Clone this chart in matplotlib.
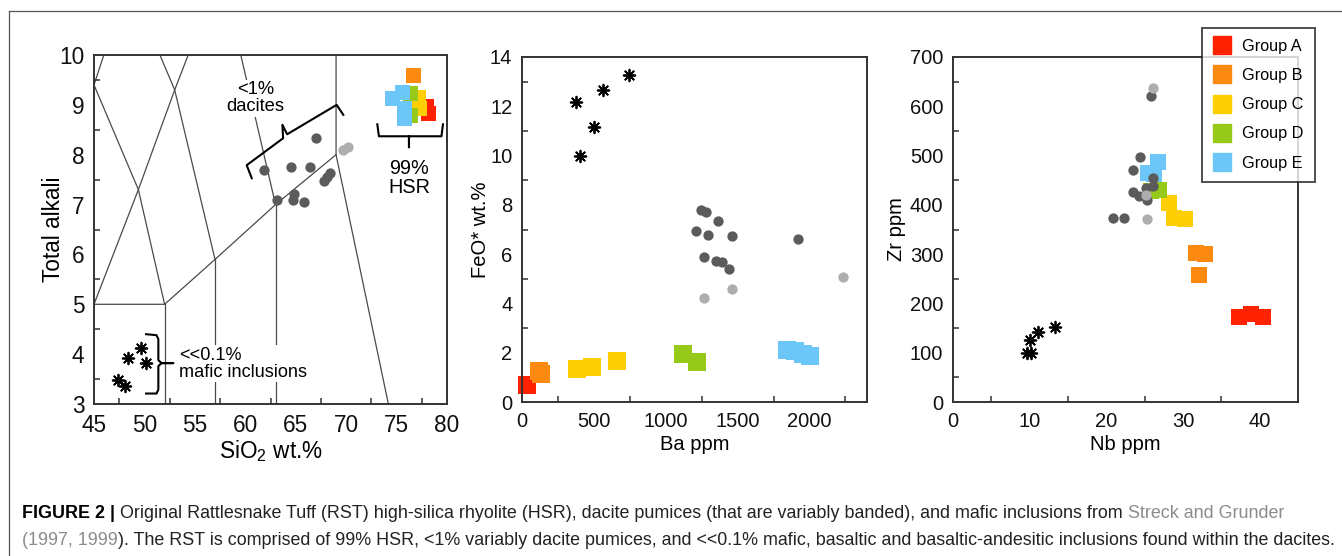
import numpy as np
import matplotlib.pyplot as plt
from matplotlib.lines import Line2D
from matplotlib.ticker import MultipleLocator

plt.rcParams['font.family'] = ['Liberation Sans', 'DejaVu Sans']
plt.rcParams['mathtext.fontset'] = 'custom'
plt.rcParams['mathtext.rm'] = 'Liberation Sans'
plt.rcParams['mathtext.it'] = 'Liberation Sans:italic'

# colours of the groups
grupos = ['Group A', 'Group B', 'Group C', 'Group D', 'Group E']
cores = ['#ff2200', '#fd8a10', '#fecf04', '#96c919', '#6cc6f8']
cinza_escuro = '#5b5b5b'
cinza_claro = '#aeaeae'

# ---- TAS diagram (SiO2 vs total alkali) ----
tas_si_mafic = [49.69, 48.37, 50.12, 47.38, 48.04]
tas_alk_mafic = [4.12, 3.92, 3.82, 3.48, 3.36]
tas_si_dacito = [66.98, 61.85, 64.50, 66.38, 63.14, 64.80, 64.73, 65.79, 67.77, 68.10, 68.43]
tas_alk_dacito = [8.33, 7.69, 7.75, 7.75, 7.10, 7.21, 7.09, 7.06, 7.48, 7.55, 7.63]
tas_si_dacito_claro = [69.69, 70.18]
tas_alk_dacito_claro = [8.09, 8.15]
tas_si_hsr = [[77.9, 78.1], [76.6], [77.12, 77.2], [76.33, 76.33], [74.55, 75.54, 75.74, 75.74]]
tas_alk_hsr = [[8.98, 8.84], [9.6], [9.16, 8.94], [9.24, 8.80], [9.14, 9.26, 8.94, 8.74]]

# TAS field boundaries (Le Bas et al. 1986)
tas_limites = [
    [(45, 9.4), (49.4, 7.3), (52, 5)],
    [(45, 5), (49.4, 7.3), (53, 9.3), (57.6, 11.7)],
    [(45, 9.4), (48.4, 11.5), (53, 9.3), (57, 5.9)],
    [(57.6, 11.7), (63, 7)],
    [(45, 5), (52, 5), (57, 5.9), (63, 7), (69, 8), (69, 13)],
    [(52, 0), (52, 5)],
    [(57, 0), (57, 5.9)],
    [(63, 0), (63, 7)],
    [(69, 8), (77.3, 0)],
]

# brackets of the annotations
chave_dacito = [(60.64, 7.53), (60.14, 7.79), (63.75, 8.33), (63.68, 8.60), (64.15, 8.41), (69.06, 9.00), (69.72, 8.80)]
chave_hsr = [(73.09, 8.61), (73.25, 8.37), (76.23, 8.37), (76.23, 8.15), (76.23, 8.37), (79.45, 8.37), (79.6, 8.61)]
chave_mafic = [(50.16, 4.40), (51.2, 4.38), (51.38, 4.30), (51.38, 3.88), (51.7, 3.82), (52.86, 3.82),
               (51.7, 3.82), (51.38, 3.76), (51.38, 3.29), (51.2, 3.21), (50.16, 3.21)]

# ---- Ba vs FeO* ----
ba_mafic = [379, 565, 746, 502, 402]
feo_mafic = [12.18, 12.65, 13.26, 11.14, 9.99]
ba_dacito = [1243, 1280, 1366, 1210, 1296, 1459, 1919, 1268, 1347, 1389, 1443]
feo_dacito = [7.79, 7.72, 7.36, 6.95, 6.78, 6.75, 6.60, 5.90, 5.74, 5.67, 5.40]
ba_dacito_claro = [1268, 1459, 2230]
feo_dacito_claro = [4.21, 4.59, 5.06]
ba_hsr = [[35], [115, 130], [386, 490, 662], [1122, 1220], [1842, 1900, 1958, 2005]]
feo_hsr = [[0.70], [1.25, 1.12], [1.34, 1.42, 1.66], [1.96, 1.61], [2.12, 2.05, 1.96, 1.85]]

# ---- Nb vs Zr ----
nb_mafic = [9.99, 11.07, 13.33, 9.68, 10.2]
zr_mafic = [125, 142, 152, 99.4, 99.4]
nb_dacito = [25.84, 24.45, 23.54, 26.14, 23.45, 24.32, 25.19, 26.14, 25.32, 20.85, 22.24]
zr_dacito = [621, 497, 470, 455, 427, 418, 435, 438, 409, 374, 373]
nb_dacito_claro = [26.06, 25.19, 25.28]
zr_dacito_claro = [638, 421, 371]
nb_hsr = [[37.35, 38.87, 40.39], [31.7, 32.92, 32.05], [28.23, 28.88, 30.31], [25.84, 26.93], [25.41, 26.71, 26.28]]
zr_hsr = [[172, 179, 172], [303, 301, 257], [404, 374, 371], [428, 431], [465, 487, 462]]

asterisco = (8, 2, 0)

fig = plt.figure(figsize=(13.42, 5.56), dpi=100)
ax1 = fig.add_axes([94/1342, 1-404/556, 353/1342, 349/556])
ax2 = fig.add_axes([522/1342, 1-402/556, 345/1342, 345/556])
ax3 = fig.add_axes([953/1342, 1-402/556, 345/1342, 345/556])


def estilo(ax, fs, xlab, ylab, xpos, ypos):
    for s in ax.spines.values():
        s.set_linewidth(1.4)
        s.set_color('#333333')
    ax.tick_params(which='major', length=0, labelsize=fs, pad=7, colors='#111111')
    ax.tick_params(which='minor', direction='in', length=4.5, width=1.1, color='#333333')
    ax.set_xlabel(xlab, fontsize=fs, va='center')
    ax.set_ylabel(ylab, fontsize=fs, va='center')
    ax.xaxis.set_label_coords(0.5, xpos)
    ax.yaxis.set_label_coords(ypos, 0.5)


def pontos(ax, x_m, y_m, x_d, y_d, x_c, y_c, x_h, y_h, lado):
    for xs, ys, c in zip(x_h, y_h, cores):
        ax.scatter(xs, ys, marker='s', s=lado**2, color=c, linewidths=0, zorder=2, clip_on=False)
    ax.scatter(x_d, y_d, s=55, color=cinza_escuro, linewidths=0, zorder=3)
    ax.scatter(x_c, y_c, s=55, color=cinza_claro, linewidths=0, zorder=3)
    ax.scatter(x_m, y_m, marker=asterisco, s=70, color='black', linewidths=1.3, zorder=3)


# Painel 1 - TAS
for seg in tas_limites:
    xs, ys = zip(*seg)
    ax1.plot(xs, ys, color='#4a4a4a', lw=0.9, zorder=1)
pontos(ax1, tas_si_mafic, tas_alk_mafic, tas_si_dacito, tas_alk_dacito,
       tas_si_dacito_claro, tas_alk_dacito_claro, tas_si_hsr, tas_alk_hsr, 10.8)
for chave in (chave_dacito, chave_hsr, chave_mafic):
    xs, ys = zip(*chave)
    ax1.plot(xs, ys, color='black', lw=1.5, zorder=4, solid_joinstyle='round')
caixa = dict(facecolor='white', edgecolor='none', pad=1)
ax1.text(61.0, 9.13, '<1%\ndacites', ha='center', va='center', fontsize=13.2, linespacing=1.0, bbox=caixa, zorder=2)
ax1.text(76.23, 7.53, '99%\nHSR', ha='center', va='center', fontsize=14.3, linespacing=1.0, zorder=4)
ax1.text(53.45, 3.81, '<<0.1%\nmafic inclusions', ha='left', va='center', fontsize=13.1, linespacing=1.0,
         bbox=caixa, zorder=2)
ax1.set_xlim(45, 80)
ax1.set_ylim(3, 10)
ax1.xaxis.set_major_locator(MultipleLocator(5))
ax1.xaxis.set_minor_locator(MultipleLocator(5, offset=2.5))
ax1.yaxis.set_major_locator(MultipleLocator(1))
ax1.yaxis.set_minor_locator(MultipleLocator(1, offset=0.5))
estilo(ax1, 16.3, 'SiO$_2$ wt.%', 'Total alkali', (404-451)/349, (53-94)/353)

# Painel 2 - Ba vs FeO*
pontos(ax2, ba_mafic, feo_mafic, ba_dacito, feo_dacito, ba_dacito_claro, feo_dacito_claro, ba_hsr, feo_hsr, 12.3)
ax2.set_xlim(0, 2400)
ax2.set_ylim(0, 14)
ax2.xaxis.set_major_locator(MultipleLocator(500))
ax2.xaxis.set_minor_locator(MultipleLocator(500, offset=250))
ax2.yaxis.set_major_locator(MultipleLocator(2))
ax2.yaxis.set_minor_locator(MultipleLocator(2, offset=1))
estilo(ax2, 14.5, 'Ba ppm', 'FeO* wt.%', (402-445)/345, (480-522)/345)

# Painel 3 - Nb vs Zr
pontos(ax3, nb_mafic, zr_mafic, nb_dacito, zr_dacito, nb_dacito_claro, zr_dacito_claro, nb_hsr, zr_hsr, 12.0)
ax3.set_xlim(0, 45)
ax3.set_ylim(0, 700)
ax3.xaxis.set_major_locator(MultipleLocator(10))
ax3.xaxis.set_minor_locator(MultipleLocator(10, offset=5))
ax3.yaxis.set_major_locator(MultipleLocator(100))
ax3.yaxis.set_minor_locator(MultipleLocator(100, offset=50))
estilo(ax3, 14.5, 'Nb ppm', 'Zr ppm', (402-445)/345, (897-953)/345)

# legenda
alcas = [Line2D([], [], marker='s', ms=13.3, color=c, lw=0) for c in cores]
leg = fig.legend(alcas, grupos, loc='upper left', bbox_to_anchor=(1202/1342, 1-28/556),
                 fontsize=11.7, frameon=True, fancybox=False, edgecolor='#222222',
                 borderpad=0.68, labelspacing=0.87, handlelength=1.1, handletextpad=0.7,
                 borderaxespad=0)
leg.get_frame().set_linewidth(1.4)

# moldura
fig.add_artist(Line2D([9/1342, 9/1342], [0, 1-11/556], color='#555555', lw=0.9))
fig.add_artist(Line2D([9/1342, 1], [1-11/556, 1-11/556], color='#555555', lw=0.9))

# legenda da figura
fs_cap = 12.85
link = '#8c8c8c'
t1 = fig.text(22/1342, 1-522/556, 'FIGURE 2 |', fontsize=fs_cap, fontweight='bold', va='bottom', ha='left')
a = plt.annotate(' Original Rattlesnake Tuff (RST) high-silica rhyolite (HSR), dacite pumices (that are variably '
                 'banded), and mafic inclusions from ', xy=(1, 0), xycoords=t1, va='bottom', ha='left',
                 fontsize=fs_cap, color='#222222', annotation_clip=False)
plt.annotate('Streck and Grunder', xy=(1, 0), xycoords=a, va='bottom', ha='left', fontsize=fs_cap, color=link,
             annotation_clip=False)
t2 = fig.text(22/1342, 1-549/556, '(1997, 1999', fontsize=fs_cap, color=link, va='bottom', ha='left')
plt.annotate('). The RST is comprised of 99% HSR, <1% variably dacite pumices, and <<0.1% mafic, basaltic and '
             'basaltic-andesitic inclusions found within the dacites.', xy=(1, 0), xycoords=t2,
             va='bottom', ha='left', fontsize=fs_cap, color='#222222', annotation_clip=False)

plt.savefig('out.png', dpi=100)
